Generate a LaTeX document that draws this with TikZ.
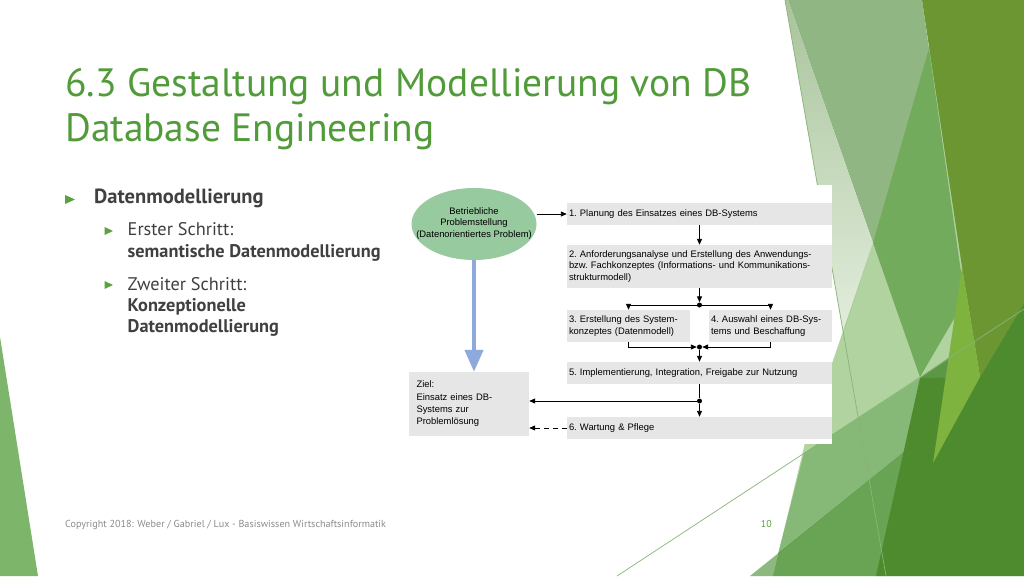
\documentclass[tikz,border=0pt]{standalone}
\usepackage{fontspec}
\setmainfont{Liberation Sans}
\newfontfamily\slidefont{PT Sans}
\usetikzlibrary{shapes.geometric,arrows.meta,calc}
\definecolor{titlegreen}{HTML}{529B3A}
\definecolor{bulletgreen}{HTML}{5AA23C}
\definecolor{textgray}{HTML}{404040}
\definecolor{footgray}{HTML}{8C8C8C}
\definecolor{boxgray}{HTML}{E6E6E6}
\definecolor{ellgreen}{HTML}{98CAA0}
\definecolor{bluearrow}{HTML}{8EAADC}
\definecolor{bgsliver}{HTML}{7DB56B}
\definecolor{bgmedlight}{HTML}{8FB683}
\definecolor{bgtrans}{HTML}{519E2E}
\definecolor{bgolive}{HTML}{6C9632}
\definecolor{bgdark}{HTML}{4E8A2E}
\definecolor{bglightmed}{HTML}{86B877}
\definecolor{bgtransdark}{HTML}{307E18}
\definecolor{bgmeddark}{HTML}{5C9748}
\definecolor{bglime}{HTML}{7DB33E}
\definecolor{bgline}{HTML}{86B676}
\definecolor{wedgetop}{HTML}{A9C49C}
\definecolor{wedgebot}{HTML}{E2EDDC}
\begin{document}
\begin{tikzpicture}[x=1pt,y=-1pt,
  dfont/.style={font=\frenchspacing\fontsize{9.4pt}{11.6pt}\selectfont},
  box/.style={dfont, fill=boxgray, draw=none, inner xsep=2pt, inner ysep=0pt, align=left},
  arr/.style={-{Triangle[length=6pt,width=5pt]}, line width=0.9pt, black},
  ln/.style={line width=0.9pt, black},
  dot/.style={circle, fill=black, inner sep=0pt, minimum size=5pt},
  bullet1/.style={fill=bulletgreen},
  ttl/.style={anchor=base west, inner sep=0pt, text=titlegreen, font=\slidefont\fontsize{39.5pt}{45pt}\selectfont},
  lvl1/.style={anchor=base west, inner sep=0pt, text=textgray, font=\slidefont\bfseries\fontsize{20.5pt}{22pt}\selectfont},
  lvl2/.style={anchor=base west, inner sep=0pt, text=textgray, font=\slidefont\fontsize{18.3pt}{20pt}\selectfont},
  lvl2b/.style={anchor=base west, inner sep=0pt, text=textgray, font=\slidefont\bfseries\fontsize{18.3pt}{20pt}\selectfont},
  bgl/.style={draw=bgline, line width=0.7pt}
]
\useasboundingbox (0,0) rectangle (1024,576);
\fill[white] (0,0) rectangle (1024,576);

% ---------- background decoration ----------
\fill[bgsliver] (0,337) -- (0,576) -- (38,576) -- cycle;
\fill[bgmedlight] (788,0) -- (922,0) -- (965,300) -- (920,377) -- cycle;
\shade[top color=wedgetop, bottom color=wedgebot] (785,0) -- (788,0) -- (873,243) -- (843,333) -- cycle;
\fill[bgtrans, opacity=0.45] (930,45) -- (1024,0) -- (1024,576) -- (773,576) -- (805,443) -- (873,243) -- cycle;
\fill[bgolive] (922,0) -- (1024,0) -- (1024,303) -- (980,377) -- (962,267) -- cycle;
\fill[bglightmed] (804,453) -- (920,378) -- (925,435) -- (778,554) -- cycle;
\fill[bgtransdark, opacity=0.55] (750,576) -- (925,435) -- (935,400) -- (876,576) -- cycle;
\fill[bgmeddark] (920,378) -- (958,351) -- (945,420) -- (925,435) -- cycle;
\fill[bgdark] (920,378) -- (980,377) -- (1024,303) -- (1024,576) -- (876,576) -- cycle;
\fill[bglime] (962,267) -- (980,377) -- (933,463) -- cycle;
\draw[bgl] (785,0) -- (886,576);
\draw[bgl] (617,576) -- (1024,309);

% white panel behind the diagram
\fill[white] (400,185) rectangle (832,444);

% ---------- title ----------
\node[ttl] (t1) at (65,96) {6.3 Gestaltung und Modellierung von DB};
\node[ttl] (t2) at (65,141) {Database Engineering};

% ---------- bullets ----------
\fill[bullet1] (65,195) -- (75,199.5) -- (65,204) -- cycle;
\node[lvl1] (b1t) at (94,203.5) {Datenmodellierung};
\fill[bullet1] (104.5,227) -- (113,231) -- (104.5,235) -- cycle;
\node[lvl2] (s1a) at (127.5,235.5) {Erster Schritt:};
\node[lvl2b] (s1b) at (127.5,257.5) {semantische Datenmodellierung};
\fill[bullet1] (104.5,281) -- (113,285) -- (104.5,289) -- cycle;
\node[lvl2] (s2a) at (127.5,290) {Zweiter Schritt:};
\node[lvl2b] (s2b) at (127.5,311) {Konzeptionelle};
\node[lvl2b] (s2c) at (127.5,332.5) {Datenmodellierung};

% ---------- footer ----------
\node[anchor=base west, inner sep=0pt, text=footgray, font=\slidefont\fontsize{10.15pt}{11pt}\selectfont] (foot) at (65,527) {Copyright 2018: Weber / Gabriel / Lux - Basiswissen Wirtschaftsinformatik};
\node[anchor=base east, inner sep=0pt, text=bulletgreen, font=\slidefont\fontsize{10pt}{11pt}\selectfont] (pg) at (772,527) {10};

% ---------- diagram ----------
\node[ellipse, fill=ellgreen, minimum width=125pt, minimum height=72pt, inner sep=0pt] (ell) at (474,224) {};
\node[dfont, align=center, inner sep=0pt] (elltxt) at (474,223.3) {Betriebliche\\Problemstellung\\(Datenorientiertes Problem)};

\node[box, minimum width=265pt, minimum height=22pt, text width=261pt] (s1box) at (699.5,214) {1. Planung des Einsatzes eines DB-Systems};
\node[box, minimum width=265pt, minimum height=43pt, text width=261pt] (s2box) at (699.5,266.5) {2. Anforderungsanalyse und Erstellung des Anwendungs-\\bzw. Fachkonzeptes (Informations- und Kommunikations-\\strukturmodell)};
\node[box, minimum width=123pt, minimum height=32pt, text width=119pt] (s3box) at (628.5,326) {3. Erstellung des System-\\konzeptes (Datenmodell)};
\node[box, minimum width=123pt, minimum height=32pt, text width=119pt] (s4box) at (770.5,326) {4. Auswahl eines DB-Sys-\\tems und Beschaffung};
\node[box, minimum width=265pt, minimum height=22pt, text width=261pt] (s5box) at (699.5,373) {5. Implementierung, Integration, Freigabe zur Nutzung};
\node[box, minimum width=265pt, minimum height=22pt, text width=261pt] (s6box) at (699.5,428) {6. Wartung \& Pflege};
\node[box, font=\frenchspacing\fontsize{9.4pt}{12.3pt}\selectfont, minimum width=120pt, minimum height=64pt, inner xsep=7.5pt, text width=105pt] (ziel) at (469,404) {Ziel:\\Einsatz eines DB-\\Systems zur\\Problemlösung};

\node[dot] (d1) at (699.5,305) {};
\node[dot] (d2) at (699.5,347) {};
\node[dot] (d3) at (699.5,401) {};

% connectors
\draw[arr] (ell.east |- s1box.west) -- (s1box.west);
\draw[arr] (s1box.south) -- (s2box.north);
\draw[arr] (s2box.south) -- (d1.north);
\draw[arr] (d1.center) -| (s3box.north);
\draw[arr] (d1.center) -| (s4box.north);
\draw[arr] (s3box.south) |- (d2.west);
\draw[arr] (s4box.south) |- (d2.east);
\draw[arr] (d2.south) -- (s5box.north);
\draw[ln] (s5box.south) -- (d3.north);
\draw[arr] (d3.west) -- (d3.west -| ziel.east);
\draw[arr] (d3.south) -- (s6box.north);
\draw[arr, dash pattern=on 5pt off 4pt] (s6box.west) -- (s6box.west -| ziel.east);
\draw[line width=4.5pt, bluearrow, -{Triangle[length=22pt,width=18pt]}] (ell.south) -- (ell.south |- ziel.north);
\end{tikzpicture}
\end{document}
